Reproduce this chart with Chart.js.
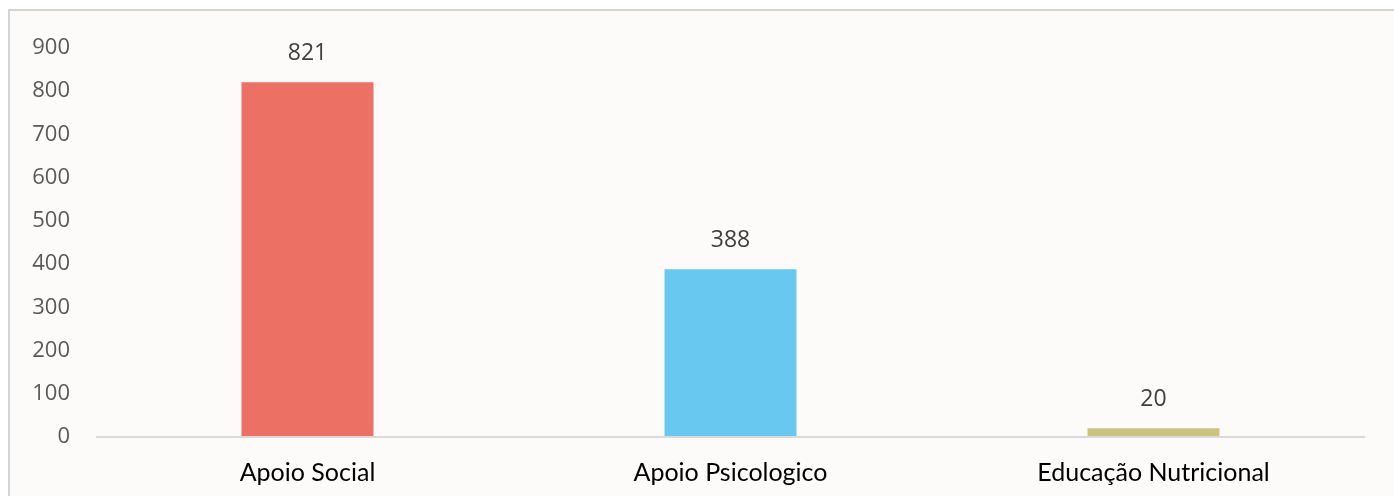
<!DOCTYPE html>
<html><head><meta charset="utf-8">
<script src="https://cdn.jsdelivr.net/npm/chart.js@4/dist/chart.umd.min.js"></script>
<style>
html,body{margin:0;padding:0;background:#fff;width:1394px;height:496px;overflow:hidden;}
#frame{position:absolute;left:8px;top:9px;width:1400px;height:500px;background:#fcfbf9;border-left:2px solid #d4d4d4;border-top:2px solid #d4d4d4;}
#wrap{position:absolute;left:0;top:0;width:1394px;height:496px;}
</style></head>
<body>
<div id="frame"></div>
<div id="wrap"><canvas id="c" width="1394" height="496"></canvas></div>
<script>
const categories = ["Apoio Social", "Apoio Psicologico", "Educação Nutricional"];
const values = [821, 388, 20];
const barColors = ["#ED7064", "#68C8F0", "#C9C47F"];
const yTicks = [0,100,200,300,400,500,600,700,800,900];

const labelPlugin = {
  id: 'vals',
  afterDatasetsDraw(chart){
    const ctx = chart.ctx;
    const meta = chart.getDatasetMeta(0);
    ctx.save();
    ctx.font = '23px "Open Sans", "DejaVu Sans", sans-serif';
    ctx.fillStyle = '#404040';
    ctx.textAlign = 'center';
    ctx.textBaseline = 'middle';
    meta.data.forEach((bar, i) => {
      ctx.fillText(String(values[i]), bar.x, bar.y - 29);
    });
    ctx.restore();
  }
};

new Chart(document.getElementById('c'), {
  type: 'bar',
  data: {
    labels: categories,
    datasets: [{
      data: values,
      backgroundColor: barColors,
      borderWidth: 0,
      barPercentage: 0.312,
      categoryPercentage: 1.0
    }]
  },
  options: {
    responsive: false,
    animation: false,
    devicePixelRatio: 1,
    layout: { padding: { left: 0, right: 29, top: 48, bottom: 0 } },
    plugins: { legend: { display: false }, tooltip: { enabled: false } },
    scales: {
      x: {
        grid: { display: false, drawTicks: false },
        border: { display: false },
        ticks: {
          color: '#000',
          font: { family: 'Lato, "Open Sans", sans-serif', size: 25 },
          padding: 21
        },
        afterFit(s){ s.height = 59; }
      },
      y: {
        min: 0, max: 900,
        afterBuildTicks(s){ s.ticks = yTicks.map(v => ({value: v})); },
        grid: {
          drawTicks: false,
          color: ctx => (ctx.tick && ctx.tick.value === 0) ? '#d9d9d9' : 'rgba(0,0,0,0)',
          lineWidth: 2
        },
        border: { display: false },
        ticks: {
          color: '#595959',
          font: { family: '"Open Sans", sans-serif', size: 22 },
          padding: 26
        },
        afterFit(s){ s.width = 96; }
      }
    }
  },
  plugins: [labelPlugin]
});
</script>
</body></html>
